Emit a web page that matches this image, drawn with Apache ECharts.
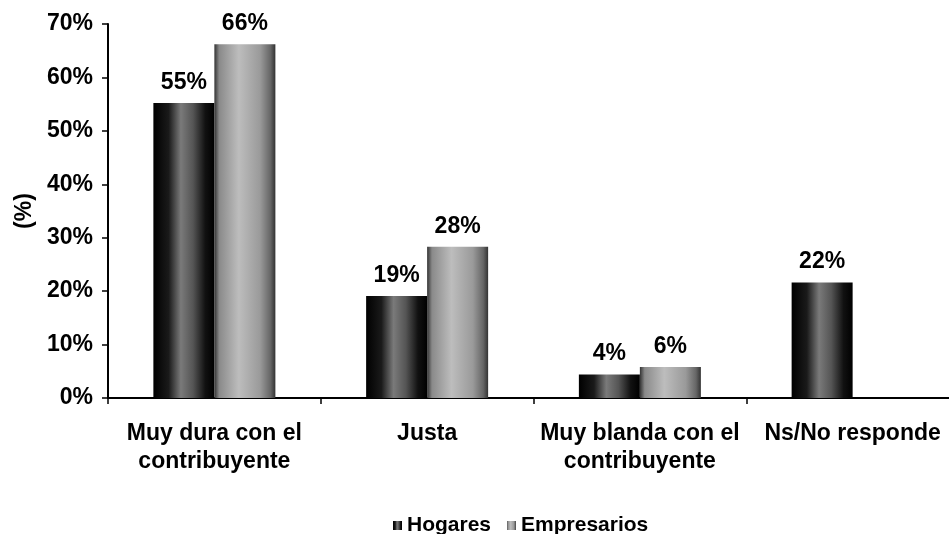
<!DOCTYPE html>
<html>
<head>
<meta charset="utf-8">
<script src="https://cdn.jsdelivr.net/npm/echarts@6/dist/echarts.min.js"></script>
<style>
  html, body { margin: 0; padding: 0; background: #fff; }
  #chartBox { width: 949px; height: 534px; }
</style>
</head>
<body>
<div id="chartBox"></div>
<script>
// categorías del eje X
var categories = ['Muy dura con el\ncontribuyente', 'Justa', 'Muy blanda con el\ncontribuyente', 'Ns/No responde'];
// valores (%)
var hogares = [55.2, 19.1, 4.4, 21.6];
var empresarios = [66.2, 28.3, 5.8, null];
// ticks eje Y
var yMin = 0, yMax = 70, yStep = 10;

var fontFam = "'Liberation Sans', Arial, sans-serif";

function grad(stops) {
  return new echarts.graphic.LinearGradient(0, 0, 1, 0, stops);
}

var chart = echarts.init(document.getElementById('chartBox'));
var labelStyle = {
  show: true,
  position: 'top',
  distance: 9,
  color: '#000',
  fontFamily: fontFam,
  fontWeight: 'bold',
  fontSize: 23,
  formatter: function (p) { return Math.round(p.value) + '%'; }
};

var option = {
  animation: false,
  backgroundColor: '#fff',
  // el eje X sigue más allá del borde derecho de la imagen
  grid: { left: 108, width: 851, top: 24, height: 374, outerBoundsMode: 'none', containLabel: false },
  legend: {
    top: 510,
    left: 388,
    itemWidth: 9,
    itemHeight: 9,
    itemGap: 16,
    icon: 'rect',
    textStyle: { color: '#000', fontFamily: fontFam, fontWeight: 'bold', fontSize: 21 },
    data: ['Hogares', 'Empresarios']
  },
  xAxis: {
    type: 'category',
    data: categories,
    axisLine: { lineStyle: { color: '#000', width: 2 } },
    axisTick: { show: true, length: 6, lineStyle: { color: '#000', width: 1.5 } },
    axisLabel: {
      color: '#000', fontFamily: fontFam, fontWeight: 'bold', fontSize: 23,
      lineHeight: 28, margin: 22, interval: 0
    }
  },
  yAxis: {
    type: 'value',
    min: yMin, max: yMax, interval: yStep,
    name: '(%)',
    nameLocation: 'middle',
    nameGap: 72,
    nameRotate: 90,
    nameTextStyle: { color: '#000', fontFamily: fontFam, fontWeight: 'bold', fontSize: 23 },
    splitLine: { show: false },
    axisLine: { show: true, lineStyle: { color: '#000', width: 2 } },
    axisTick: { show: true, length: 6, lineStyle: { color: '#000', width: 1.5 } },
    axisLabel: {
      color: '#000', fontFamily: fontFam, fontWeight: 'bold', fontSize: 23, margin: 15,
      formatter: function (v) { return v + '%'; }
    }
  },
  series: [
    {
      name: 'Hogares',
      type: 'bar',
      data: hogares,
      barWidth: 61,
      barGap: '0%',
      itemStyle: {
        color: grad([
          { offset: 0, color: '#000' },
          { offset: 0.25, color: '#1a1a1a' },
          { offset: 0.45, color: '#7a7a7a' },
          { offset: 0.65, color: '#555' },
          { offset: 0.85, color: '#111' },
          { offset: 1, color: '#000' }
        ])
      },
      label: labelStyle
    },
    {
      name: 'Empresarios',
      type: 'bar',
      data: empresarios,
      barWidth: 61,
      itemStyle: {
        color: grad([
          { offset: 0, color: '#333' },
          { offset: 0.08, color: '#8a8a8a' },
          { offset: 0.4, color: '#bdbdbd' },
          { offset: 0.75, color: '#9a9a9a' },
          { offset: 0.92, color: '#666' },
          { offset: 1, color: '#333' }
        ])
      },
      label: labelStyle
    }
  ]
};
chart.setOption(option);
</script>
</body>
</html>
